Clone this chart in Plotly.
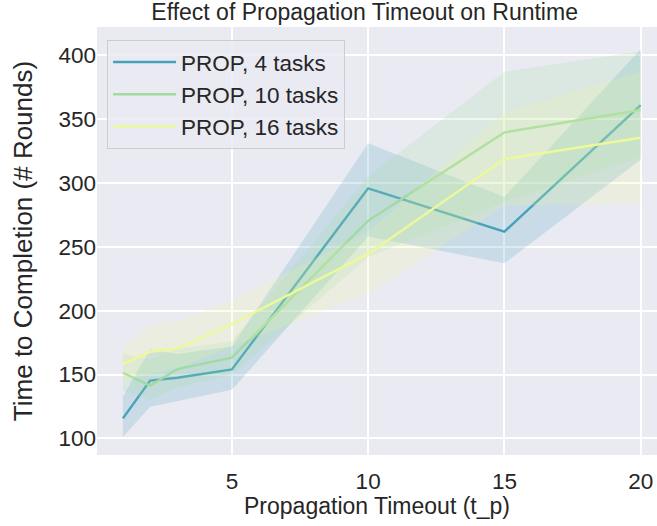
import plotly.graph_objects as go

timeouts = [1, 2, 3, 5, 10, 15, 20]

series_names = ["PROP, 4 tasks", "PROP, 10 tasks", "PROP, 16 tasks"]

mean_4 = [115.7, 145.2, 147.5, 154.0, 295.7, 261.8, 360.9]
low_4 = [101.0, 124.8, 129.0, 138.0, 258.0, 237.0, 318.0]
high_4 = [132.6, 169.7, 166.0, 172.0, 331.0, 289.0, 404.5]

mean_10 = [151.4, 141.3, 154.3, 163.2, 270.3, 339.5, 357.0]
low_10 = [137.0, 130.0, 140.0, 150.0, 242.0, 285.0, 320.0]
high_10 = [166.0, 162.0, 170.0, 176.0, 305.0, 387.0, 403.0]

mean_16 = [158.0, 167.8, 170.5, 189.5, 244.3, 318.6, 335.3]
low_16 = [145.0, 150.0, 155.0, 172.0, 213.0, 282.0, 284.0]
high_16 = [172.0, 188.7, 192.0, 208.0, 262.0, 355.6, 387.0]

line_colors = ["#45a2b9", "#a2dba2", "#ecf99a"]
band_colors = ["rgba(69,162,185,0.2)", "rgba(162,219,162,0.2)", "rgba(236,249,154,0.2)"]

means = [mean_4, mean_10, mean_16]
lows = [low_4, low_10, low_16]
highs = [high_4, high_10, high_16]

FONT = "Liberation Sans, Arial, sans-serif"
TXT = "#262626"

fig = go.Figure()
for name, m, lo, hi, lc, bc in zip(series_names, means, lows, highs, line_colors, band_colors):
    fig.add_trace(go.Scatter(
        x=timeouts + timeouts[::-1], y=hi + lo[::-1],
        fill="toself", fillcolor=bc, line=dict(width=0),
        mode="lines", hoverinfo="skip", showlegend=False))
    fig.add_trace(go.Scatter(
        x=timeouts, y=m, mode="lines", name=name,
        line=dict(color=lc, width=2.4)))

fig.update_layout(
    width=657, height=526,
    margin=dict(l=97, r=0, t=27, b=71, autoexpand=False),
    paper_bgcolor="white", plot_bgcolor="#eaeaf2",
    font=dict(family=FONT, color=TXT, size=23),
    title=dict(text="Effect of Propagation Timeout on Runtime",
               x=0.555, xref="container", xanchor="center",
               y=0.977, yref="container", yanchor="middle",
               font=dict(size=23, color=TXT)),
    legend=dict(x=0.018, y=0.97, xanchor="left", yanchor="top",
                bgcolor="rgba(234,234,242,0.8)", bordercolor="#cccccc", borderwidth=1,
                itemwidth=63, tracegroupgap=0,
                font=dict(size=22.5, color=TXT)),
    showlegend=True,
)
fig.update_xaxes(range=[0.05, 20.6], tickvals=[5, 10, 15, 20],
                 showgrid=True, gridcolor="white", gridwidth=1.5,
                 zeroline=False, ticks="", showline=False, automargin=False,
                 ticklabelstandoff=10,
                 tickfont=dict(size=22.5, color=TXT),
                 title=dict(text="Propagation Timeout (t_p)", font=dict(size=23, color=TXT), standoff=4))
fig.update_yaxes(range=[87, 422], tickvals=[100, 150, 200, 250, 300, 350, 400],
                 showgrid=True, gridcolor="white", gridwidth=1.5,
                 zeroline=False, ticks="", showline=False, automargin=False,
                 tickfont=dict(size=22.5, color=TXT),
                 title=dict(text="Time to Completion (# Rounds)", font=dict(size=26, color=TXT), standoff=18))

fig.write_html("out.html", config={"displayModeBar": False},
               post_script="document.body.style.margin='0';document.body.style.overflow='hidden';")
